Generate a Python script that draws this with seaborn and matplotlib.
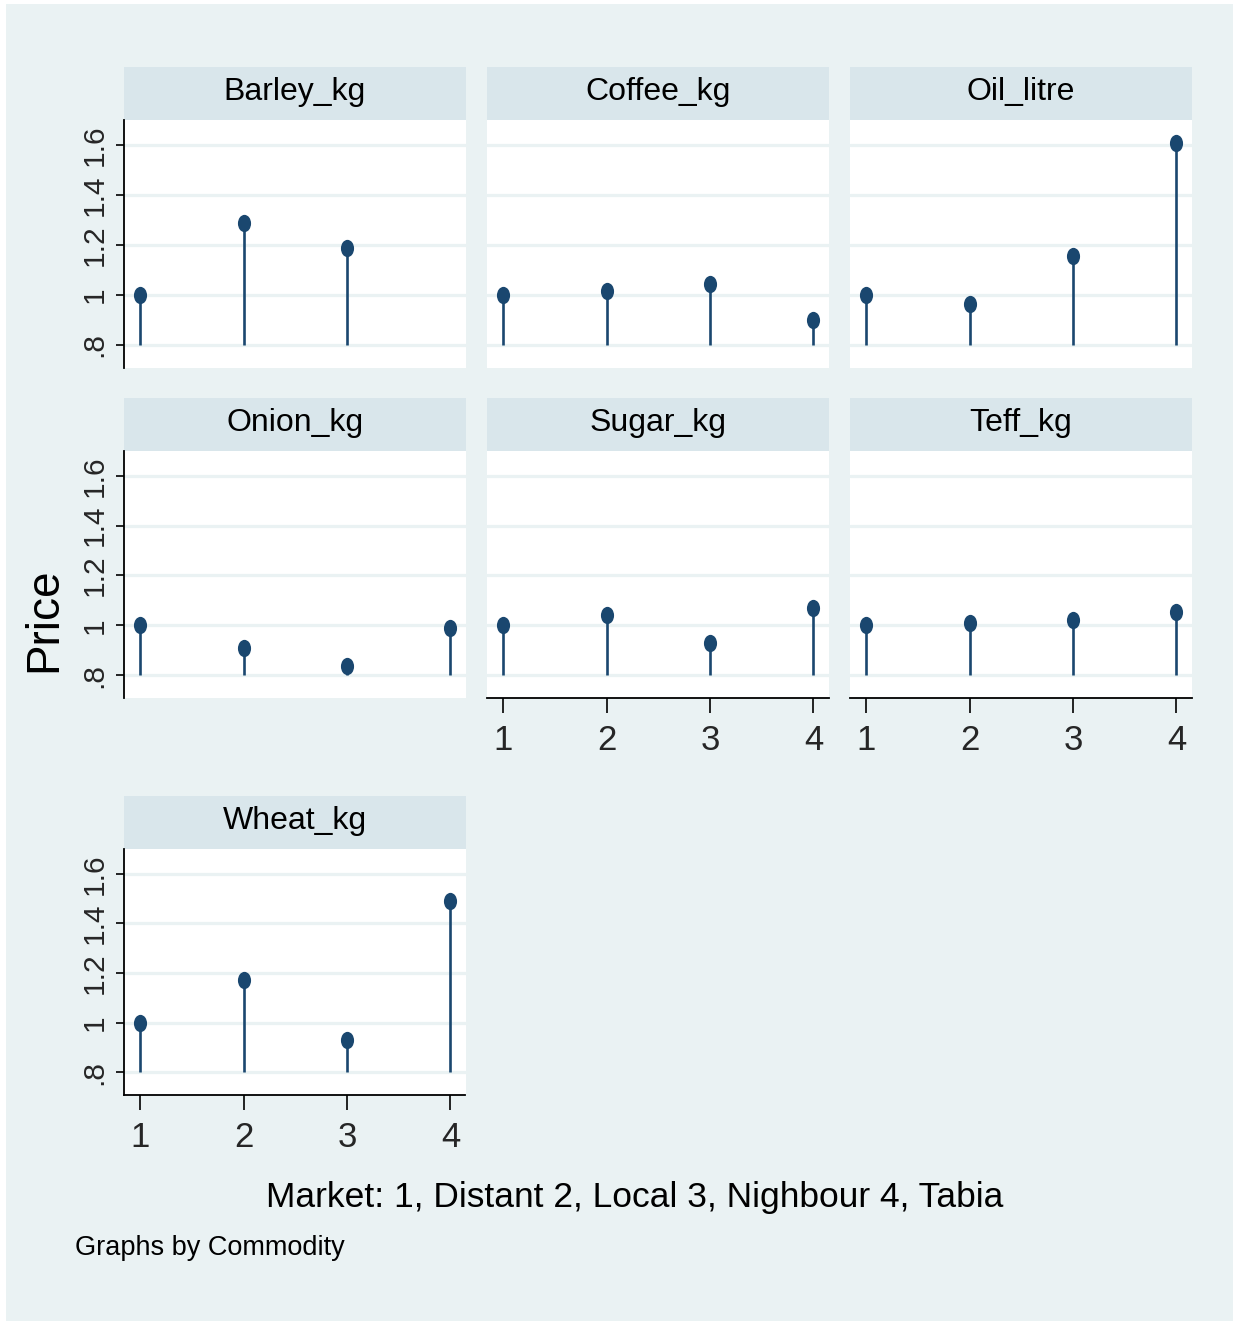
import numpy as np
import pandas as pd
import seaborn as sns
import matplotlib
matplotlib.use("Agg")
import matplotlib.pyplot as plt
from matplotlib.path import Path
from matplotlib.transforms import Affine2D
from matplotlib.patches import Rectangle

# ---------------- data ----------------
commodities = ["Barley_kg", "Coffee_kg", "Oil_litre", "Onion_kg", "Sugar_kg", "Teff_kg", "Wheat_kg"]
markets = [1, 2, 3, 4]
barley = [1.00, 1.29, 1.19, np.nan]
coffee = [1.00, 1.015, 1.045, 0.90]
oil = [1.00, 0.965, 1.155, 1.61]
onion = [1.00, 0.91, 0.835, 0.99]
sugar = [1.00, 1.04, 0.93, 1.07]
teff = [1.00, 1.01, 1.02, 1.055]
wheat = [1.00, 1.17, 0.93, 1.49]
y_ticks = [0.8, 1.0, 1.2, 1.4, 1.6]
y_tick_labels = [".8", "1", "1.2", "1.4", "1.6"]
x_ticks = [1, 2, 3, 4]
base = 0.8

series = [barley, coffee, oil, onion, sugar, teff, wheat]
rows = []
for name, vals in zip(commodities, series):
    for m, v in zip(markets, vals):
        if not np.isnan(v):
            rows.append({"Commodity": name, "Market": m, "Price": v})
df = pd.DataFrame(rows)

# ---------------- style ----------------
sns.set_theme(style="white")
FONT = ["Liberation Sans Narrow", "Liberation Sans", "DejaVu Sans"]
plt.rcParams["font.family"] = FONT

BG = "#EAF2F3"
STRIP = "#D9E6EB"
NAVY = "#1A476F"

W, H = 1233, 1321
ellipse = Path.unit_circle().transformed(Affine2D().scale(0.76, 1.0))

g = sns.FacetGrid(df, col="Commodity", col_wrap=3, col_order=commodities,
                  sharex=True, sharey=True, height=3, aspect=1.2)
g.figure.set_size_inches(W / 100, H / 100)
g.figure.set_dpi(100)
fig = g.figure
fig.patch.set_facecolor("white")
fig.patches.append(Rectangle((6 / W, 0), 1 - 6 / W, 1 - 4 / H, transform=fig.transFigure,
                             facecolor=BG, edgecolor="none", zorder=-10))


def stems(data, **kws):
    ax = plt.gca()
    ax.vlines(data["Market"], base, data["Price"], color=NAVY, linewidth=1.9, zorder=3)
    sns.scatterplot(data=data, x="Market", y="Price", ax=ax, marker=ellipse,
                    s=155, color=NAVY, edgecolor=NAVY, linewidth=0, zorder=4)


g.map_dataframe(stems)

col_left = [124, 487, 850]
col_w = 341.5
row_top = [120, 451, 849]
row_h = [248, 247, 246]
strip_h = 53

for i, (name, ax) in enumerate(zip(commodities, g.axes.flat)):
    r, c = divmod(i, 3)
    left = col_left[c]
    top = row_top[r]
    hgt = row_h[r]
    ax.set_position([left / W, 1 - (top + hgt) / H, col_w / W, hgt / H])
    ax.set_facecolor("white")
    ax.set_xlim(0.845, 4.145)
    ax.set_ylim(0.708, 1.70)
    ax.set_yticks(y_ticks)
    ax.set_xticks(x_ticks)
    ax.set_title("")
    ax.set_xlabel("")
    ax.set_ylabel("")
    for yv in y_ticks:
        ax.axhline(yv, color=BG, linewidth=2.3, zorder=1)
    for s in ax.spines.values():
        s.set_visible(False)
    # strip header
    ax.add_patch(Rectangle((0, 1.0), 1, strip_h / hgt, transform=ax.transAxes,
                           facecolor=STRIP, edgecolor="none", clip_on=False, zorder=0))
    ax.text(0.5, 1.0 + strip_h / hgt / 2 + 0.005, name, transform=ax.transAxes,
            ha="center", va="center", fontsize=23, family=FONT, color="black")
    # y axis only on first column
    if c == 0:
        ax.spines["left"].set_visible(True)
        ax.spines["left"].set_color("black")
        ax.spines["left"].set_linewidth(1.3)
        ax.tick_params(axis="y", left=True, length=6, width=1.2, color="black",
                       labelleft=True, labelsize=21.5, pad=5)
        ax.set_yticklabels(y_tick_labels, rotation=90, va="center", family=FONT)
    else:
        ax.tick_params(axis="y", left=False, labelleft=False)
    # x axis on bottom panels
    if name in ("Sugar_kg", "Teff_kg", "Wheat_kg"):
        ax.spines["bottom"].set_visible(True)
        ax.spines["bottom"].set_color("black")
        ax.spines["bottom"].set_linewidth(1.3)
        ax.tick_params(axis="x", bottom=True, length=11, width=1.2, color="black",
                       labelbottom=True, labelsize=25, pad=8)
        ax.set_xticklabels([str(t) for t in x_ticks], family=FONT)
    else:
        ax.tick_params(axis="x", bottom=False, labelbottom=False)

fig.text(44 / W, 1 - 620 / H, "Price", rotation=90, ha="center", va="center",
         fontsize=33, family=FONT, color="black")
fig.text(635 / W, 1 - 1197 / H, "Market: 1, Distant 2, Local 3, Nighbour 4, Tabia",
         ha="center", va="center", fontsize=25.5, family=FONT, color="black")
fig.text(75 / W, 1 - 1248 / H, "Graphs by Commodity", ha="left", va="center",
         fontsize=19.5, family=FONT, color="black")

fig.savefig("out.png", dpi=100, facecolor=fig.get_facecolor())
